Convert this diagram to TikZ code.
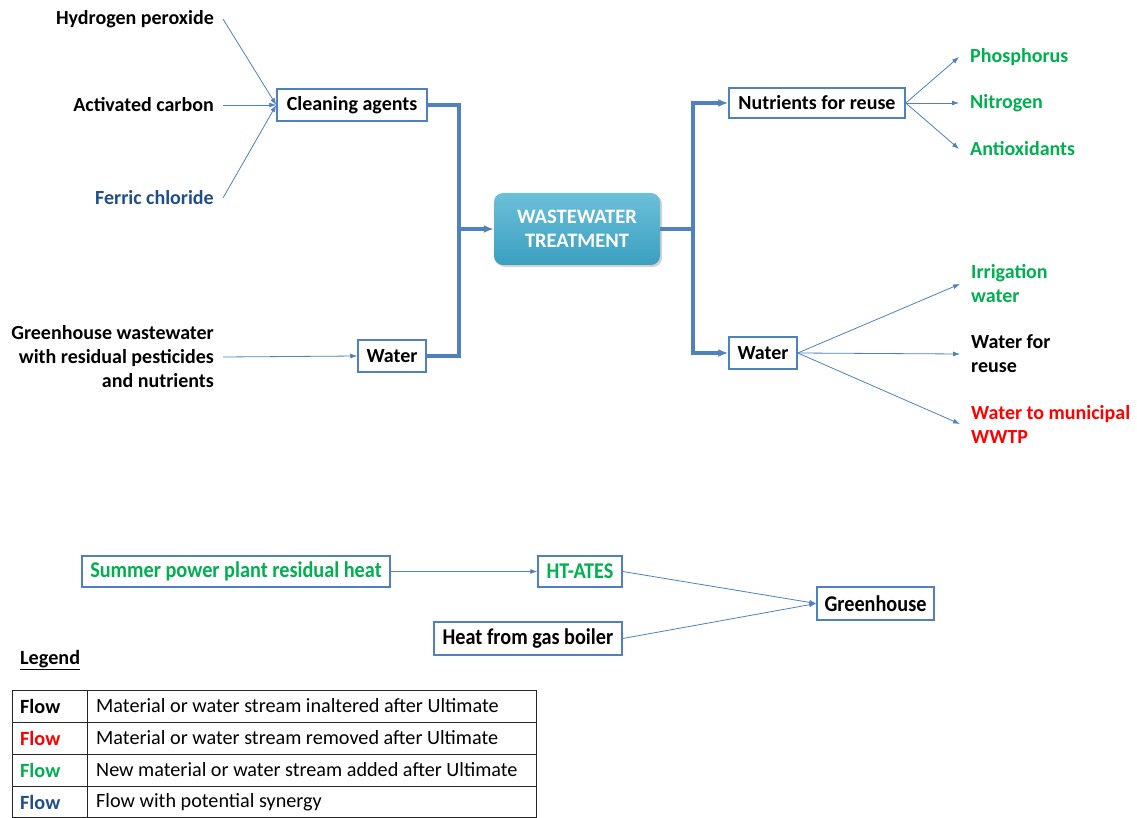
\documentclass[tikz,border=0pt]{standalone}
\usepackage{fontspec}
\setmainfont{Carlito}
\newfontfamily\narrowfont[FakeStretch=0.9]{Carlito}
\usetikzlibrary{arrows.meta,shadows}
\definecolor{flowblue}{HTML}{4F81BD}
\definecolor{newgreen}{HTML}{00B050}
\definecolor{gonered}{HTML}{FF0000}
\definecolor{synblue}{HTML}{1F4E8C}
\definecolor{tealtop}{HTML}{6CC0D8}
\definecolor{tealbot}{HTML}{3A9FC0}
\tikzset{
  lbl/.style={font=\fontsize{20}{24}\selectfont\bfseries, inner ysep=0pt},
  lblL/.style={lbl, anchor=east, align=right, inner xsep=9pt},
  lblR/.style={lbl, anchor=west, align=left, inner xsep=11pt},
  box/.style={draw=flowblue, line width=1.5pt, fill=white, font=\fontsize{20}{24}\selectfont\bfseries,
              inner xsep=7pt, inner ysep=0pt},
  nbox/.style={box, font=\fontsize{22.5}{24}\selectfont\narrowfont\bfseries},
  thin/.style={draw=flowblue, line width=0.8pt, -{Latex[length=7pt,width=5pt]}},
  trunk/.style={draw=flowblue, line width=3.2pt},
  trunkarrow/.style={trunk, -{Latex[length=10pt,width=8pt]}},
  legtxt/.style={anchor=west, inner sep=0pt, font=\fontsize{20.2}{24}\selectfont},
  legflow/.style={anchor=west, inner sep=0pt, font=\fontsize{20.2}{24}\selectfont\bfseries},
}
\begin{document}
\begin{tikzpicture}[x=1pt,y=-1pt]
\useasboundingbox (0,0) rectangle (1137,818);
\fill[white] (0,0) rectangle (1137,818);

% inputs on the left
\node[lblL] (h2o2) at (223,19) {Hydrogen peroxide};
\node[lblL] (carbon) at (223,105) {Activated carbon};
\node[lblL, text=synblue] (ferric) at (223,198) {Ferric chloride};
\node[lblL] (ghww) at (223,357) {Greenhouse wastewater\\with residual pesticides\\and nutrients};

% intermediate boxes
\node[box, minimum width=150pt, minimum height=32pt] (clean) at (352,105) {Cleaning agents};
\node[box, minimum width=68pt, minimum height=32pt] (waterin) at (392,356) {Water};

% central treatment step
\node[draw=none, rounded corners=9pt, top color=tealtop, bottom color=tealbot,
      drop shadow={shadow xshift=2pt, shadow yshift=-2pt, opacity=0.35},
      minimum width=166pt, minimum height=72pt, align=center, text=white,
      font=\fontsize{20.5}{24}\selectfont\bfseries] (wwt) at (577,229) {WASTEWATER\\TREATMENT};

% outputs
\node[box, minimum width=176pt, minimum height=30pt] (nutr) at (817,103) {Nutrients for reuse};
\node[box, minimum width=68pt, minimum height=32pt] (waterout) at (763,353) {Water};

\node[lblR, text=newgreen] (phos) at (959,57) {Phosphorus};
\node[lblR, text=newgreen] (nitro) at (959,103) {Nitrogen};
\node[lblR, text=newgreen] (antiox) at (959,149) {Antioxidants};

\node[lblR, text=newgreen] (irrig) at (960,284) {Irrigation\\water};
\node[lblR] (reuse) at (960,354) {Water for\\reuse};
\node[lblR, text=gonered] (munic) at (960,424) {Water to municipal\\WWTP};

% thin feed arrows
\draw[thin] (h2o2.east) -- (clean.west);
\draw[thin] (carbon.east) -- (clean.west);
\draw[thin] (ferric.east) -- (clean.west);
\draw[thin] (ghww.east) -- (waterin.west);

\draw[thin] (nutr.east) -- (phos.west);
\draw[thin] (nutr.east) -- (nitro.west);
\draw[thin] (nutr.east) -- (antiox.west);
\draw[thin] (waterout.east) -- (irrig.west);
\draw[thin] (waterout.east) -- (reuse.west);
\draw[thin] (waterout.east) -- (munic.west);

% main trunk lines
\coordinate (jl) at (459,229);
\coordinate (jr) at (693,229);
\draw[trunk] (clean.east) -| (jl) |- (waterin.east);
\draw[trunkarrow] (jl) -- (wwt.west);
\draw[trunk] (wwt.east) -- (jr);
\draw[trunkarrow] (jr) |- (nutr.west);
\draw[trunkarrow] (jr) |- (waterout.west);

% heat chain
\node[nbox, text=newgreen, minimum width=308pt, minimum height=31pt] (summer) at (236,571.5) {Summer power plant residual heat};
\node[nbox, text=newgreen, minimum width=84pt, minimum height=31pt] (ates) at (580,571.5) {HT-ATES};
\node[nbox, minimum width=188pt, minimum height=33pt] (boiler) at (528,638.5) {Heat from gas boiler};
\node[nbox, minimum width=117pt, minimum height=33pt] (green) at (875.5,603.5) {Greenhouse};

\draw[thin] (summer.east) -- (ates.west);
\draw[thin] (ates.east) -- (green.west);
\draw[thin] (boiler.east) -- (green.west);

% legend
\node[legflow] (legtitle) at (20,660) {\underline{Legend}};
\draw[black!85, line width=1pt] (12,690) rectangle (536,817.5);
\foreach \yy in {722,754,786} \draw[black!85, line width=1pt] (12,\yy) -- (536,\yy);
\draw[black!85, line width=1pt] (87,690) -- (87,817.5);

\node[legflow] (f1) at (20,706) {Flow};
\node[legflow, text=gonered] (f2) at (20,738) {Flow};
\node[legflow, text=newgreen] (f3) at (20,770) {Flow};
\node[legflow, text=synblue] (f4) at (20,802) {Flow};
\node[legtxt] (d1) at (96,706) {Material or water stream inaltered after Ultimate};
\node[legtxt] (d2) at (96,738) {Material or water stream removed after Ultimate};
\node[legtxt] (d3) at (96,770) {New material or water stream added after Ultimate};
\node[legtxt] (d4) at (96,802) {Flow with potential synergy};
\end{tikzpicture}
\end{document}
